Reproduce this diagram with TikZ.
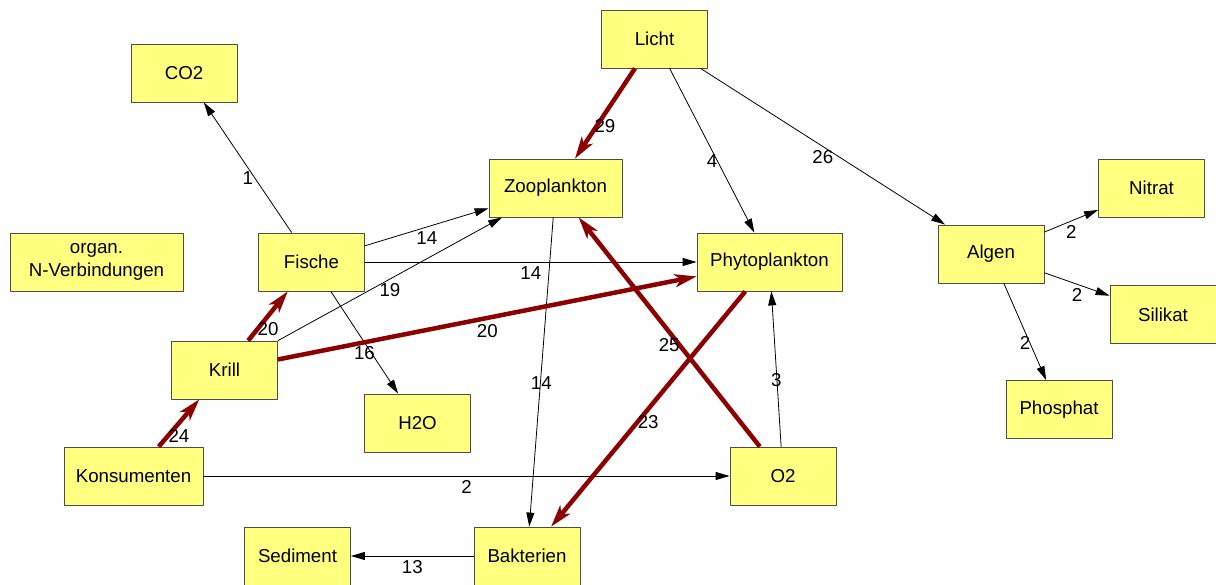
\documentclass[tikz,border=0pt]{standalone}
\usepackage{fontspec}
\setmainfont{Liberation Sans}
\usetikzlibrary{arrows.meta}
\definecolor{boxyellow}{RGB}{255,255,128}
\definecolor{flowred}{RGB}{139,0,0}
\begin{document}
\begin{tikzpicture}[x=1pt,y=-1pt,line join=round,
    box/.style={draw=black!70,fill=boxyellow,line width=0.8pt,
      minimum width=106pt,minimum height=58pt,inner sep=0pt,align=center,
      font=\fontsize{18.7}{23}\selectfont},
    flow/.style={-{Triangle[length=14pt,width=8pt]},line width=0.8pt},
    strongflow/.style={-{Stealth[length=22pt,width=13pt,inset=6pt]},
      line width=4.5pt,flowred},
    val/.style={midway,below,inner sep=4pt,text=black,
      font=\fontsize{18.7}{23}\selectfont}]
    \useasboundingbox (0,0) rectangle (1216,585);
    % Compartments of the food web.
    \node[box] (co2) at (184,73) {CO2};
    \node[box] (licht) at (654.5,39) {Licht};
    \node[box,minimum width=133pt] (zoo) at (555.5,188) {Zooplankton};
    \node[box,minimum width=145pt] (phyto) at (769.5,262) {Phytoplankton};
    \node[box] (algen) at (991,254) {Algen};
    \node[box] (nitrat) at (1151.5,188) {Nitrat};
    \node[box] (silikat) at (1163,314.5) {Silikat};
    \node[box] (phosphat) at (1059,409.5) {Phosphat};
    \node[box,minimum width=173pt] (norg) at (96.5,262) {organ.\\N-Verbindungen};
    \node[box] (fische) at (311.5,262) {Fische};
    \node[box] (krill) at (224.5,370) {Krill};
    \node[box] (h2o) at (417.5,423) {H2O};
    \node[box,minimum width=139pt] (kons) at (133.5,476) {Konsumenten};
    \node[box] (o2) at (783,476) {O2};
    \node[box] (sediment) at (297.5,556) {Sediment};
    \node[box] (bakt) at (527,556) {Bakterien};
    % Weak links.
    \draw[flow] (fische) -- (co2) node[val] {1};
    \draw[flow] (licht) -- (phyto) node[val] {4};
    \draw[flow] (licht) -- (algen) node[val] {26};
    \draw[flow] (algen) -- (nitrat) node[val] {2};
    \draw[flow] (algen) -- (silikat) node[val] {2};
    \draw[flow] (algen) -- (phosphat) node[val] {2};
    \draw[flow] (fische) -- (zoo) node[val] {14};
    \draw[flow] (fische) -- (phyto) node[val] {14};
    \draw[flow] (fische) -- (h2o) node[val] {16};
    \draw[flow] (krill) -- (zoo) node[val] {19};
    \draw[flow] (kons) -- (o2) node[val] {2};
    \draw[flow] (zoo) -- (bakt) node[val] {14};
    \draw[flow] (o2) -- (phyto) node[val] {3};
    \draw[flow] (bakt) -- (sediment) node[val] {13};
    % Strong links.
    \draw[strongflow] (licht) -- (zoo) node[val] {29};
    \draw[strongflow] (krill) -- (fische) node[val] {20};
    \draw[strongflow] (krill) -- (phyto) node[val] {20};
    \draw[strongflow] (kons) -- (krill) node[val] {24};
    \draw[strongflow] (o2) -- (zoo) node[val] {25};
    \draw[strongflow] (phyto) -- (bakt) node[val] {23};
  \end{tikzpicture}
\end{document}
